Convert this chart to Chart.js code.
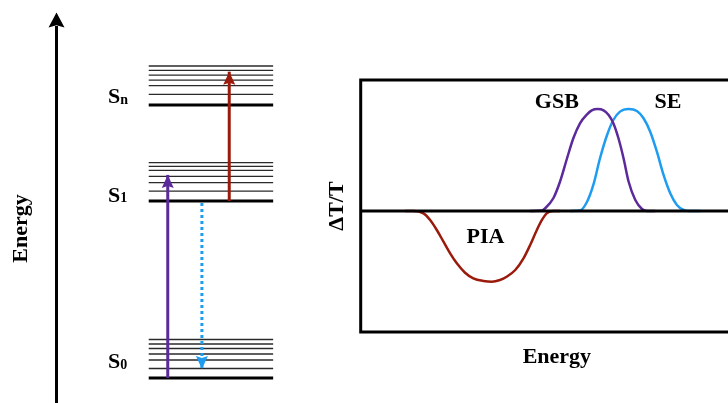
<!DOCTYPE html>
<html>
<head>
<meta charset="utf-8">
<script src="https://cdn.jsdelivr.net/npm/chart.js@4.4.0/dist/chart.umd.min.js"></script>
<style>
  html, body { margin: 0; padding: 0; background: #fff; overflow: hidden; }
  #wrap { position: relative; width: 728px; height: 403px; overflow: hidden; background: #fff; }
  #levelsChart { position: absolute; left: 0; top: 0; }
  #spectrumChart { position: absolute; left: 300px; top: 0; }
</style>
</head>
<body>
<div id="wrap">
  <canvas id="levelsChart" width="300" height="430"></canvas>
  <canvas id="spectrumChart" width="453" height="403"></canvas>
</div>
<script>
var serif = '"Liberation Serif", "Times New Roman", serif';
var purple = "#5b2a9b";
var blue = "#1e9cf2";
var darkRed = "#9a1b0c";

// energy levels (arbitrary energy units, S0 = 0)
var stateSub = ["0", "1", "n"];
var stateEnergy = [0, 2.0, 3.086];
var stateLabelEnergy = [0.11, 1.99, 3.105];
var s0Vib = [0.107, 0.203, 0.271, 0.333, 0.384, 0.435];
var s1Vib = [2.113, 2.208, 2.279, 2.347, 2.392, 2.434];
var snVib = [3.205, 3.304, 3.366, 3.424, 3.477, 3.526];
var levelSpan = [3.8, 8.9];
var labelX = 2.13;

// transitions drawn as arrows
var transNames = ["GSB", "PIA", "SE"];
var transX = [4.58, 7.10, 5.98];
var transFrom = [0, 2.0, 1.978];
var transTo = [2.295, 3.462, 0.102];
var transColor = [purple, darkRed, blue];
var transDash = [[], [], [3, 3]];

// transient spectrum (x: energy, y: dT/T)
var gsbX = [43.2, 46.2, 47.0, 49.1, 50.8, 52.6, 54.2, 55.9, 57.7, 58.9, 60.4, 61.9, 63.2, 64.4, 65.7, 67.0, 68.3, 70.0, 71.7, 73.0, 75.1];
var gsbY = [0, 0.005, 0.026, 0.125, 0.287, 0.517, 0.713, 0.860, 0.948, 0.987, 1.0, 0.987, 0.941, 0.860, 0.713, 0.517, 0.287, 0.108, 0.02, 0, 0];
var seX = [53.4, 55.9, 57.7, 59.3, 61.0, 62.8, 64.4, 66.1, 68.3, 70.4, 72.1, 73.8, 75.5, 77.2, 78.9, 80.6, 82.3, 83.6, 86.6];
var seY = [0, 0.005, 0.091, 0.255, 0.517, 0.745, 0.892, 0.974, 1.0, 0.980, 0.909, 0.777, 0.581, 0.353, 0.174, 0.059, 0.01, 0, 0];
var piaX = [11.3, 13.4, 16.0, 17.7, 19.4, 21.1, 22.8, 24.5, 26.6, 28.7, 31.3, 33.4, 35.5, 37.2, 39.4, 41.5, 43.2, 44.9, 46.2, 47.4, 49.1, 50.8];
var piaY = [0, 0, -0.023, -0.088, -0.186, -0.301, -0.415, -0.513, -0.605, -0.660, -0.686, -0.693, -0.676, -0.644, -0.578, -0.464, -0.333, -0.186, -0.088, -0.023, 0, 0];
var zeroX = [0, 100];
var zeroY = [0, 0];

var spectrumLabels = ["GSB", "SE", "PIA"];
var spectrumLabelX = [50.0, 78.3, 31.8];
var spectrumLabelY = [1.007, 1.007, -0.317];

function toPoints(xs, ys) {
    var pts = [];
    for (var i = 0; i < xs.length; i++) {
        pts.push({ x: xs[i], y: ys[i] });
    }
    return pts;
}

// ---- left: energy level diagram ----
var levelSets = [];
function addLevel(e, width, color) {
    levelSets.push({
        data: [{ x: levelSpan[0], y: e }, { x: levelSpan[1], y: e }],
        showLine: true,
        borderColor: color,
        borderWidth: width,
        pointRadius: 0,
        tension: 0,
    });
}
for (var s = 0; s < stateEnergy.length; s++) {
    addLevel(stateEnergy[s], 3, "#000");
}
for (v of s0Vib) addLevel(v, 1.3, "#2a2a2a");
for (v of s1Vib) addLevel(v, 1.3, "#2a2a2a");
for (v of snVib) addLevel(v, 1.3, "#2a2a2a");
for (var t = 0; t < transNames.length; t++) {
    levelSets.unshift({
        label: transNames[t],
        data: [{ x: transX[t], y: transFrom[t] }, { x: transX[t], y: transTo[t] }],
        showLine: true,
        borderColor: transColor[t],
        borderWidth: 3,
        borderDash: transDash[t],
        borderCapStyle: "butt",
        pointRadius: 0,
    });
}

function drawHead(ctx, x, y, dir, w, h, color) {
    // dir -1 = pointing up, 1 = pointing down
    ctx.save();
    ctx.fillStyle = color;
    ctx.beginPath();
    ctx.moveTo(x, y);
    ctx.lineTo(x - w / 2, y - dir * h);
    ctx.lineTo(x, y - dir * h * 0.85);
    ctx.lineTo(x + w / 2, y - dir * h);
    ctx.closePath();
    ctx.fill();
    ctx.restore();
}

var levelDecor = {
    id: "levelDecor",
    afterDraw(chart) {
        var ctx = chart.ctx;
        var xs = chart.scales.x;
        var ys = chart.scales.y;
        var area = chart.chartArea;
        // arrow head of the energy axis
        drawHead(ctx, area.left + 0.5, area.top - 14.5, -1, 16, 15, "#000");
        for (var t = 0; t < transNames.length; t++) {
            var dir = transTo[t] > transFrom[t] ? -1 : 1;
            drawHead(ctx, xs.getPixelForValue(transX[t]), ys.getPixelForValue(transTo[t]), dir, 12, 13, transColor[t]);
        }
        ctx.save();
        ctx.fillStyle = "#000";
        ctx.textBaseline = "alphabetic";
        ctx.textAlign = "left";
        for (var s = 0; s < stateSub.length; s++) {
            var px = xs.getPixelForValue(labelX);
            var py = ys.getPixelForValue(stateLabelEnergy[s]);
            ctx.font = "bold 22px " + serif;
            ctx.fillText("S", px, py);
            var w = ctx.measureText("S").width;
            ctx.font = "bold 14px " + serif;
            ctx.fillText(stateSub[s], px + w, py + 0.5);
        }
        ctx.restore();
    },
};

new Chart("levelsChart", {
    type: "scatter",
    data: { datasets: levelSets },
    options: {
        responsive: false,
        animation: false,
        layout: { padding: { top: 27, left: 0, right: 0, bottom: 0 } },
        plugins: { legend: { display: false }, tooltip: { enabled: false } },
        scales: {
            x: { type: "linear", min: 0, max: 10, display: false },
            y: {
                type: "linear",
                min: -0.588,
                max: 3.967,
                afterFit: function (scale) {
                    scale.width = 56;
                },
                ticks: { display: false },
                grid: { display: false, drawTicks: false },
                border: { display: true, color: "#000", width: 3 },
                title: {
                    display: true,
                    text: "Energy",
                    color: "#000",
                    font: { family: serif, size: 22, weight: "bold" },
                    padding: { top: 8.5, bottom: 0 },
                },
            },
        },
    },
    plugins: [levelDecor],
});

// ---- right: transient spectrum ----
var spectrumDecor = {
    id: "spectrumDecor",
    afterDraw(chart) {
        var ctx = chart.ctx;
        var area = chart.chartArea;
        var xs = chart.scales.x;
        var ys = chart.scales.y;
        ctx.save();
        ctx.strokeStyle = "#000";
        ctx.lineWidth = 3;
        ctx.strokeRect(area.left, area.top, area.right - area.left, area.bottom - area.top);
        ctx.fillStyle = "#000";
        ctx.font = "bold 22px " + serif;
        ctx.textAlign = "center";
        ctx.textBaseline = "alphabetic";
        for (var i = 0; i < spectrumLabels.length; i++) {
            ctx.fillText(spectrumLabels[i], xs.getPixelForValue(spectrumLabelX[i]), ys.getPixelForValue(spectrumLabelY[i]));
        }
        ctx.restore();
    },
};

function curve(label, xs, ys, color) {
    return {
        label: label,
        data: toPoints(xs, ys),
        showLine: true,
        borderColor: color,
        borderWidth: 2.5,
        pointRadius: 0,
        cubicInterpolationMode: "monotone",
    };
}

new Chart("spectrumChart", {
    type: "scatter",
    data: {
        datasets: [
            {
                label: "zero",
                data: toPoints(zeroX, zeroY),
                showLine: true,
                borderColor: "#000",
                borderWidth: 3,
                pointRadius: 0,
            },
            curve("GSB", gsbX, gsbY, purple),
            curve("SE", seX, seY, blue),
            curve("PIA", piaX, piaY, darkRed),
        ],
    },
    options: {
        responsive: false,
        animation: false,
        layout: { padding: { top: 80, left: 0, right: 0, bottom: 0 } },
        plugins: { legend: { display: false }, tooltip: { enabled: false } },
        scales: {
            x: {
                type: "linear",
                min: 0,
                max: 100,
                afterFit: function (scale) {
                    scale.height = 71;
                },
                ticks: { display: false },
                grid: { display: false, drawTicks: false },
                border: { display: false },
                title: {
                    display: true,
                    text: "Energy",
                    color: "#000",
                    font: { family: serif, size: 22, weight: "bold" },
                    padding: { top: 0, bottom: 32.8 },
                },
            },
            y: {
                type: "linear",
                min: -1.186,
                max: 1.284,
                afterFit: function (scale) {
                    scale.width = 60.7;
                },
                ticks: { display: false },
                grid: { display: false, drawTicks: false },
                border: { display: false },
                title: {
                    display: true,
                    text: "ΔT/T",
                    color: "#000",
                    font: { family: serif, size: 22, weight: "bold" },
                    padding: { top: 24.3, bottom: 0 },
                },
            },
        },
    },
    plugins: [spectrumDecor],
});
</script>
</body>
</html>
